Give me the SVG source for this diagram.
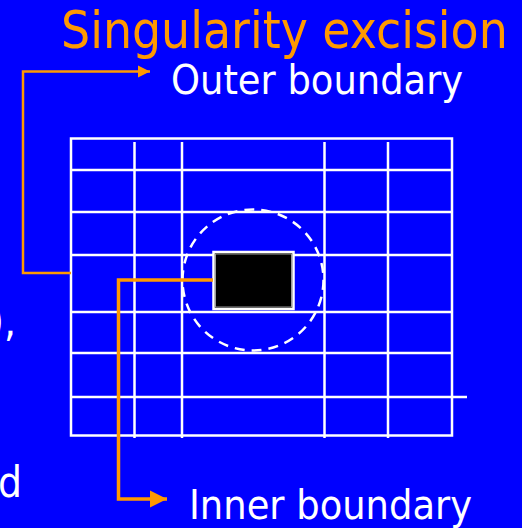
<svg xmlns="http://www.w3.org/2000/svg" width="522" height="528" viewBox="0 0 522 528">
<style>
.bg{fill:#0000FF}
.grid{stroke:#FFFFFF;stroke-width:2.5;fill:none}
.txt{font-family:'DejaVu Sans Condensed','DejaVu Sans',sans-serif;font-stretch:condensed}
.white{fill:#FFFFFF}
.orange{fill:#FF9900}
.conn{stroke:#FF9900;fill:none;stroke-linejoin:miter}
</style>
<defs>
<marker id="arr" viewBox="0 0 10 10" refX="10" refY="5" markerWidth="5" markerHeight="5" orient="auto" markerUnits="strokeWidth">
<path d="M0,0 L10,5 L0,10 z" fill="#FF9900"/>
</marker>
</defs>
<rect class="bg" x="0" y="0" width="522" height="528"/>

<g id="left-fragments" class="txt white" font-size="42">
<text x="16" y="336" text-anchor="end">),</text>
<text x="22" y="497" text-anchor="end">d</text>
</g>

<g id="title">
<text class="txt orange" x="61" y="48" font-size="51">Singularity excision</text>
</g>

<g id="grid">
<rect class="grid" x="71" y="138.5" width="381" height="297"/>
<path class="grid" d="M71,170 H451 M71,212 H451 M71,255 H451 M71,312 H451 M71,353 H451 M71,397 H467"/>
<path class="grid" d="M134.5,142 V438 M182,142 V438 M324.5,142 V438 M388,142 V438"/>
</g>

<g id="excision-region">
<circle cx="253" cy="280" r="70.5" fill="none" stroke="#FFFFFF" stroke-width="2.5" stroke-dasharray="10 7"/>
</g>

<g id="inner-hole">
<rect x="213.5" y="252" width="80" height="57" fill="#000000" stroke="#FFFFFF" stroke-width="2.5"/>
<rect x="215.5" y="254" width="76" height="53" fill="none" stroke="#999999" stroke-width="1"/>
</g>

<g id="connectors">
<path class="conn" stroke-width="2.5" d="M71,273 H23 V71.5 H150" marker-end="url(#arr)"/>
<path class="conn" stroke-width="3.5" d="M213,280 H118.5 V499 H167" marker-end="url(#arr)"/>
</g>

<g id="outer-boundary-label">
<text class="txt white" x="171" y="94" font-size="41">Outer boundary</text>
</g>

<g id="inner-boundary-label">
<text class="txt white" x="189" y="519" font-size="41">Inner boundary</text>
</g>
</svg>
